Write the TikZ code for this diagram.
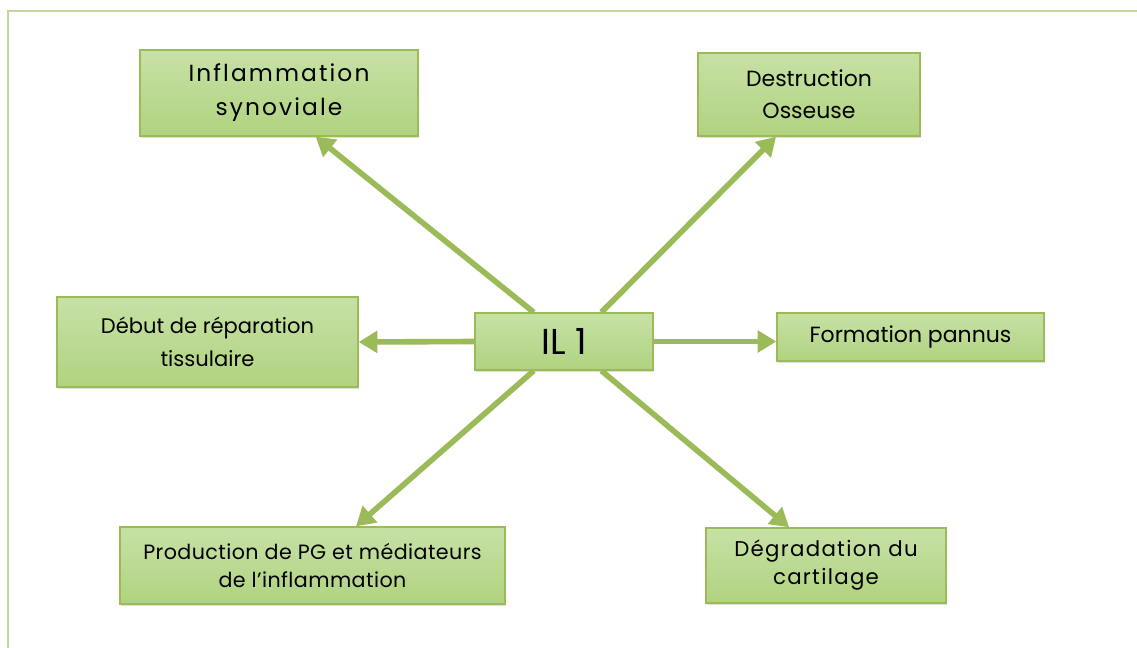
\documentclass[tikz,border=0pt]{standalone}
\usepackage{fontspec}
\setmainfont{Poppins}
\usepackage{xcolor}
\usetikzlibrary{arrows.meta}
\usetikzlibrary{calc,shadows}
\definecolor{boxtop}{RGB}{199,225,165}
\definecolor{boxbottom}{RGB}{176,211,128}
\definecolor{boxborder}{RGB}{155,187,89}
\definecolor{framegreen}{RGB}{195,214,155}
\tikzset{
    effect/.style={
        draw=boxborder,
        line width=1pt,
        top color=boxtop,
        bottom color=boxbottom,
        align=center,
        inner sep=2pt,
        drop shadow={shadow xshift=0.6pt, shadow yshift=-1.2pt, opacity=0.25},
        font=\fontsize{16}{24}\selectfont
    },
    link/.style={
        draw=boxborder,
        line width=4.2pt,
        -{Triangle[length=14pt, width=16pt]}
    }
}

\begin{document}
\begin{tikzpicture}[x=0.75pt, y=-0.75pt]
  \useasboundingbox (0,0) rectangle (1137,648);

  % Outer frame
  \draw[framegreen, line width=2.2pt] (1137,11) -- (8,11) -- (8,648);

  % Central node
  \node[effect, minimum width=133.5pt, minimum height=42.75pt,
        font=\fontsize{27}{30}\selectfont] (il) at (564,341.5) {IL 1};

  % Effects
  \node[effect, minimum width=208.5pt, minimum height=64.5pt,
        font=\fontsize{17.5}{25.5}\selectfont\addfontfeature{LetterSpace=9}] (infl) at (279,93) {Inflammation\\synoviale};
  \node[effect, minimum width=166.5pt, minimum height=62.25pt,
        font=\fontsize{16.5}{24}\selectfont] (dest) at (809,94.5) {Destruction\\Osseuse};
  \node[effect, minimum width=225.75pt, minimum height=67.5pt,
        font=\fontsize{15.8}{24.5}\selectfont] (debut) at (207.5,342) {Début de réparation\\tissulaire};
  \node[effect, minimum width=200.25pt, minimum height=36pt,
        font=\fontsize{16.5}{24}\selectfont] (pannus) at (910.5,337) {Formation pannus};
  \node[effect, minimum width=288.75pt, minimum height=57.75pt,
        font=\fontsize{15.5}{20.5}\selectfont\addfontfeature{LetterSpace=2}] (prod) at (312.5,565.5) {Production de PG et médiateurs\\de l’inflammation};
  \node[effect, minimum width=180pt, minimum height=56.25pt,
        font=\fontsize{16}{21}\selectfont\addfontfeature{LetterSpace=6}] (deg) at (826,565.5) {Dégradation du\\cartilage};

  % Arrows from IL 1
  \draw[link] (il.136) -- (infl.-50);
  \draw[link] (il.38) -- (dest.232);
  \draw[link] (il.west) -- (debut.east);
  \draw[link] (il.east) -- (il.east -| pannus.west);
  \draw[link] (il.224) -- (prod.42);
  \draw[link] (il.322) -- (deg.134);
\end{tikzpicture}
\end{document}
